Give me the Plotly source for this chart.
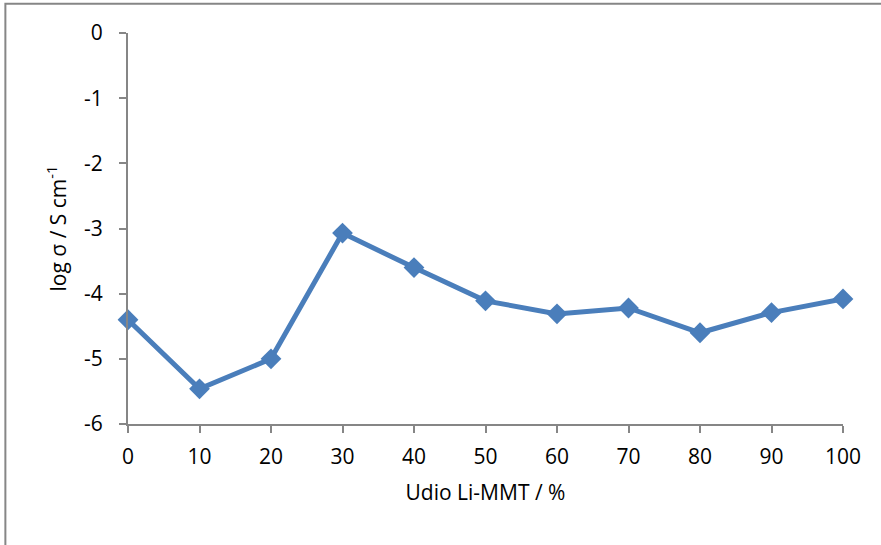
import plotly.graph_objects as go

# Li-MMT content (%) and log conductivity
udio = [0, 10, 20, 30, 40, 50, 60, 70, 80, 90, 100]
log_sigma = [-4.40, -5.46, -5.00, -3.07, -3.60, -4.11, -4.31, -4.22, -4.60, -4.29, -4.08]

x_ticks = [0, 10, 20, 30, 40, 50, 60, 70, 80, 90, 100]
y_ticks = [0, -1, -2, -3, -4, -5, -6]

line_color = "#4A7EBB"
axis_color = "#868686"
font_family = "Open Sans, Liberation Sans, sans-serif"

fig = go.Figure()
fig.add_trace(go.Scatter(
    x=udio, y=log_sigma, mode="lines+markers",
    line=dict(color=line_color, width=5),
    marker=dict(symbol="diamond", size=16, color=line_color),
    showlegend=False, cliponaxis=False,
))

fig.update_xaxes(
    range=[0, 100], tickvals=x_ticks, ticktext=[str(v) for v in x_ticks],
    showgrid=False, zeroline=False, showline=True, linecolor=axis_color, linewidth=2,
    ticks="outside", ticklen=7, tickwidth=2, tickcolor=axis_color, ticklabelstandoff=6,
    tickfont=dict(size=21, color="black", family=font_family),
    title=dict(text="Udio Li-MMT / %", font=dict(size=21, color="black", family=font_family), standoff=16),
)
fig.update_yaxes(
    range=[-6, 0], tickvals=y_ticks, ticktext=[str(v) for v in y_ticks],
    showgrid=False, zeroline=False, showline=True, linecolor=axis_color, linewidth=2,
    ticks="outside", ticklen=7, tickwidth=2, tickcolor=axis_color, ticklabelstandoff=12,
    tickfont=dict(size=21, color="black", family=font_family),
    title=dict(text="log σ / S cm<sup>-1</sup>", font=dict(size=21, color="black", family=font_family), standoff=12),
)

# outer chart frame
fig.add_shape(type="rect", xref="paper", yref="paper",
              x0=-0.1715, x1=1.1, y0=-0.4, y1=1.075,
              line=dict(color=axis_color, width=2), fillcolor="rgba(0,0,0,0)", layer="below")

fig.update_layout(
    width=881, height=545,
    margin=dict(l=128, r=38, t=33, b=121),
    plot_bgcolor="white", paper_bgcolor="white",
    font=dict(family=font_family),
)

fig.write_html("out.html")
